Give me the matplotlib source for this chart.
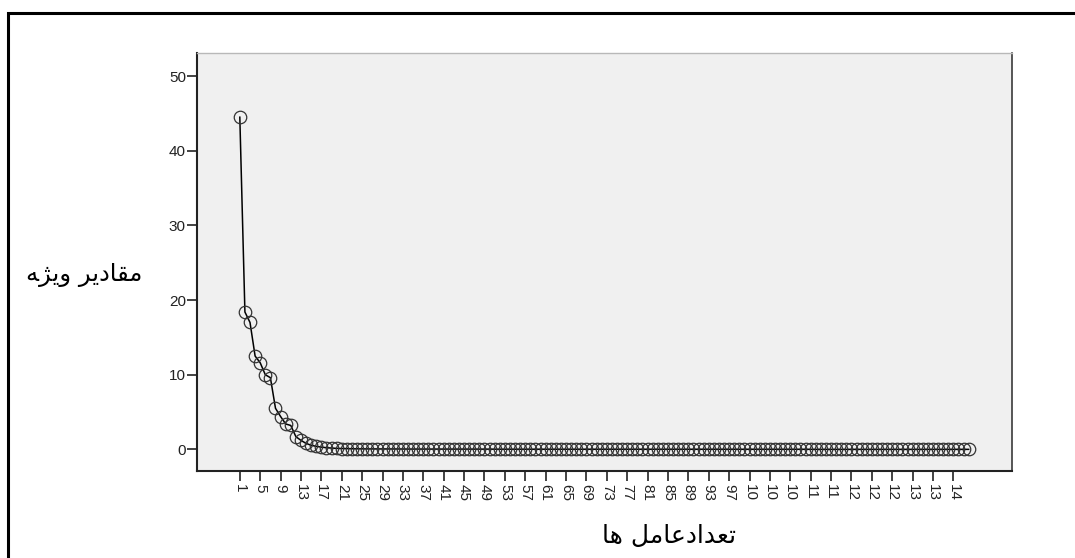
import matplotlib
matplotlib.use("Agg")
import matplotlib.pyplot as plt
import numpy as np
from matplotlib.patches import Rectangle

# eigenvalues of the scree plot, one per factor (1..144)
eigen_head = [44.5, 18.4, 17.0, 12.5, 11.6, 10.0, 9.6, 5.5, 4.4, 3.4,
              3.2, 1.7, 1.2, 0.8, 0.55, 0.4, 0.3, 0.22, 0.17, 0.13,
              0.11, 0.09, 0.08, 0.07, 0.06]
eigen_tail = [0.06, 0.06, 0.05, 0.05, 0.05, 0.05, 0.05, 0.04, 0.04, 0.04,
              0.04, 0.04, 0.04, 0.04, 0.03, 0.03, 0.03, 0.03, 0.03, 0.03,
              0.03, 0.03, 0.03, 0.03, 0.03, 0.02, 0.02, 0.02, 0.02, 0.02,
              0.02, 0.02, 0.02, 0.02, 0.02, 0.02, 0.02, 0.02, 0.02, 0.02,
              0.02, 0.02, 0.02, 0.02, 0.02, 0.01, 0.01, 0.01, 0.01, 0.01,
              0.01, 0.01, 0.01, 0.01, 0.01, 0.01, 0.01, 0.01, 0.01, 0.01,
              0.01, 0.01, 0.01, 0.01, 0.01, 0.01, 0.01, 0.01, 0.01, 0.01,
              0.01, 0.01, 0.01, 0.01, 0.01, 0.01, 0.01, 0.01, 0.01, 0.01,
              0.01, 0.01, 0.01, 0.01, 0.01, 0.01, 0.01, 0.0, 0.0, 0.0,
              0.0, 0.0, 0.0, 0.0, 0.0, 0.0, 0.0, 0.0, 0.0, 0.0,
              0.0, 0.0, 0.0, 0.0, 0.0, 0.0, 0.0, 0.0, 0.0, 0.0,
              0.0, 0.0, 0.0, 0.0, 0.0, 0.0, 0.0, 0.0, 0.0]
eigen = eigen_head + eigen_tail
factors = np.arange(1, len(eigen) + 1)

x_ticks = list(range(1, 142, 4))
# SPSS truncates the 3-digit labels to two characters
x_ticklabels = [str(t)[:2] for t in x_ticks]
y_ticks = [0, 10, 20, 30, 40, 50]

# Persian labels written in shaped presentation forms, visual order
ylabel = "\uFEEA\uFB8B\uFEF3\uFEED \uFEAE\uFEF3\uFEA9\uFE8E\uFED8\uFEE3"   # مقادیر ویژه
xlabel = "\uFE8E\uFEEB \uFEDE\uFEE3\uFE8E\uFECB\uFEA9\uFE8D\uFEAA\uFECC\uFE97"  # تعدادعامل ها

plt.rcParams["font.family"] = ["Liberation Sans", "DejaVu Sans"]

fig = plt.figure(figsize=(10.75, 5.58), dpi=100)
fig.patch.set_facecolor("white")

# outer frame (only left and top edges fall inside the image)
fig.patches.append(Rectangle((8 / 1075, -0.2), 1.2, 1.2 - 13 / 558,
                             transform=fig.transFigure, fill=False,
                             edgecolor="black", linewidth=2.2))

ax = fig.add_axes([197 / 1075, 1 - 471 / 558, 815 / 1075, 418 / 558])
ax.set_facecolor("#f0f0f0")

ax.plot(factors, eigen, color="black", linewidth=1.1, zorder=2,
        marker="o", markersize=9, markerfacecolor="none",
        markeredgecolor="#333333", markeredgewidth=0.9)

ax.set_xlim(-7.4, 152.5)
ax.set_ylim(-2.9, 53.1)
ax.set_xticks(x_ticks)
ax.set_xticklabels(x_ticklabels, rotation=270)
ax.set_yticks(y_ticks)
ax.tick_params(axis="both", direction="out", width=1.2, colors="#222222",
               labelsize=11)
ax.tick_params(axis="x", length=7, pad=2)
ax.tick_params(axis="y", length=7, pad=1)

for side in ("left", "bottom"):
    ax.spines[side].set_linewidth(1.5)
    ax.spines[side].set_color("#222222")
ax.spines["top"].set_color("#b8b8b8")
ax.spines["top"].set_linewidth(1.0)
ax.spines["right"].set_color("#3a3a3a")
ax.spines["right"].set_linewidth(1.2)

fig.text(84 / 1075, 1 - 275 / 558, ylabel, family=["DejaVu Sans"],
         fontsize=17.5, ha="center", va="center")
fig.text(669 / 1075, 1 - 536 / 558, xlabel, family=["DejaVu Sans"],
         fontsize=18, ha="center", va="center")

fig.savefig("out.png", dpi=100, facecolor="white")
